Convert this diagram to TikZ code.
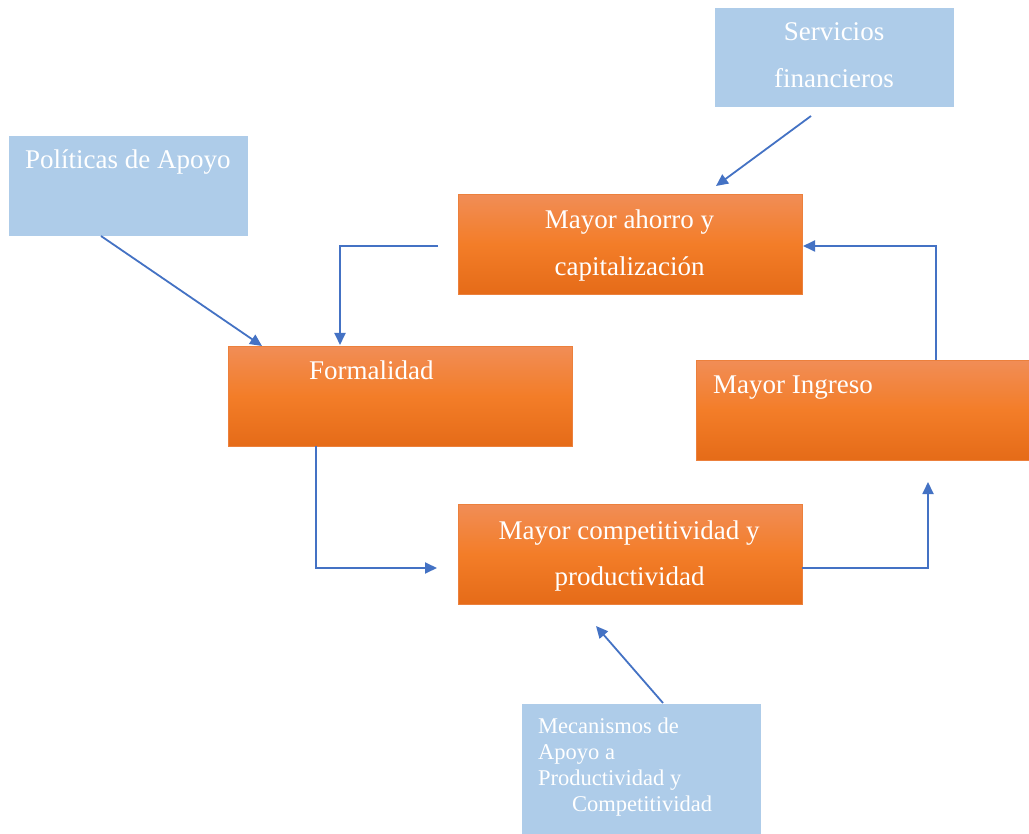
\documentclass[tikz,border=0pt]{standalone}
\usepackage{fontspec}
\setmainfont{Liberation Serif}
\usetikzlibrary{arrows.meta}
\definecolor{boxblue}{RGB}{174,204,233}
\definecolor{orangetop}{RGB}{241,141,86}
\definecolor{orangemid}{RGB}{243,125,40}
\definecolor{orangebot}{RGB}{229,107,24}
\definecolor{orangeedge}{RGB}{236,128,60}
\definecolor{linkblue}{RGB}{68,114,196}
\begin{document}
\begin{tikzpicture}[x=1pt,y=-1pt,
  bluebox/.style={rectangle,fill=boxblue,draw=none,inner sep=0pt,anchor=north west},
  orangebox/.style={rectangle,draw=orangeedge,line width=0.8pt,inner sep=0pt,anchor=north west,
    top color=orangetop,bottom color=orangebot,middle color=orangemid},
  bigtext/.style={text=white,font=\fontsize{27}{30}\selectfont,inner sep=0pt},
  smalltext/.style={text=white,font=\fontsize{22.5}{25}\selectfont,inner sep=0pt,anchor=base west},
  link/.style={draw=linkblue,line width=1.8pt,-{Triangle[length=12pt,width=11pt]}}
]
\useasboundingbox[fill=white] (0,0) rectangle (1029,834);

% boxes
\node[bluebox,minimum width=239pt,minimum height=99pt] (serv) at (715,8) {};
\node[bluebox,minimum width=239pt,minimum height=100pt] (pol) at (9,136) {};
\node[bluebox,minimum width=239pt,minimum height=130pt] (mec) at (522,704) {};
\node[orangebox,minimum width=344pt,minimum height=100pt] (ahorro) at (458,194) {};
\node[orangebox,minimum width=344pt,minimum height=100pt] (formal) at (228,346) {};
\node[orangebox,minimum width=336pt,minimum height=100pt] (ingreso) at (696,360) {};
\node[orangebox,minimum width=344pt,minimum height=100pt] (compet) at (458,504) {};

% labels
\node[bigtext,anchor=base] (t1) at (834,41) {Servicios};
\node[bigtext,anchor=base] (t2) at (834,88) {financieros};
\node[bigtext,anchor=base west] (t3) at (25,169) {Políticas de Apoyo};
\node[bigtext,anchor=base] (t4) at (629.5,229) {Mayor ahorro y};
\node[bigtext,anchor=base] (t5) at (629.5,276) {capitalización};
\node[bigtext,anchor=base west] (t6) at (309,380) {Formalidad};
\node[bigtext,anchor=base west] (t7) at (713,394) {Mayor Ingreso};
\node[bigtext,anchor=base] (t8) at (629,539) {Mayor competitividad y};
\node[bigtext,anchor=base] (t9) at (629.5,585) {productividad};
\node[smalltext] (t10) at (538,733) {Mecanismos de};
\node[smalltext] (t11) at (538,759) {Apoyo a};
\node[smalltext] (t12) at (538,785) {Productividad y};
\node[smalltext] (t13) at (572,811) {Competitividad};

% connector end points
\coordinate (servA) at (811,116);
\coordinate (servB) at (716,186);
\coordinate (polA) at (101,236);
\coordinate (polB) at (262,346);
\coordinate (ahA) at (438,246);
\coordinate (ahB) at (340,345);
\coordinate (foA) at (316,446);
\coordinate (foB) at (437,568);
\coordinate (coA) at (802,568);
\coordinate (coB) at (928,482);
\coordinate (inA) at (936,360);
\coordinate (inB) at (803,246);
\coordinate (meA) at (663,703);
\coordinate (meB) at (596,626);

% connectors
\draw[link] (servA) -- (servB);
\draw[link] (polA) -- (polB);
\draw[link] (ahA) -| (ahB);
\draw[link] (foA) |- (foB);
\draw[link] (coA) -| (coB);
\draw[link] (inA) |- (inB);
\draw[link] (meA) -- (meB);
\end{tikzpicture}
\end{document}
